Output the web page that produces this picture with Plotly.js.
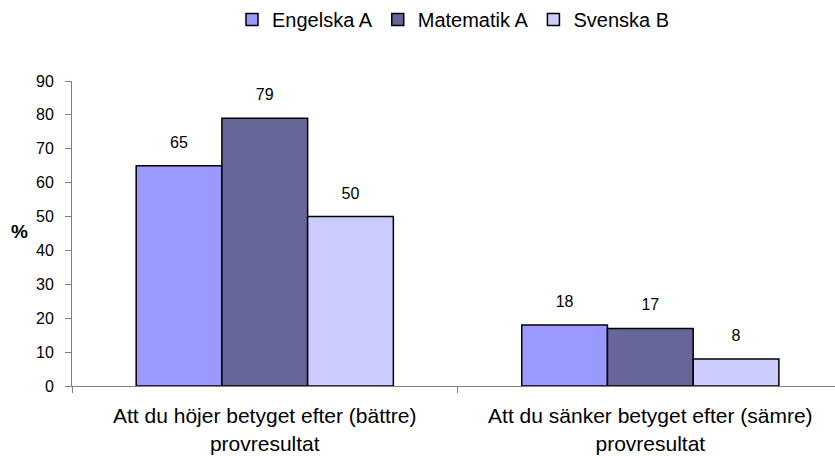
<!DOCTYPE html>
<html>
<head>
<meta charset="utf-8">
<script src="https://cdn.plot.ly/plotly-3.0.1.min.js"></script>
<style>html,body{margin:0;padding:0;overflow:hidden;background:#fff}</style>
</head>
<body>
<div id="chart" style="width:835px;height:456px"></div>
<script>
const categories = ["Att du höjer betyget efter (bättre)<br>provresultat", "Att du sänker betyget efter (sämre)<br>provresultat"];
const seriesNames = ["Engelska A", "Matematik A", "Svenska B"];
const engelska = [65, 18];
const matematik = [79, 17];
const svenska = [50, 8];
const colors = ["#9999FF", "#666699", "#CCCCFF"];
const yTicks = [0, 10, 20, 30, 40, 50, 60, 70, 80, 90];
const yTitle = "%";

const values = [engelska, matematik, svenska];
const traces = values.map((v, i) => ({
  type: "bar",
  name: seriesNames[i],
  x: categories,
  y: v,
  text: v.map(String),
  texttemplate: "<span style='font-size:16px'>%{text}</span><br> ",
  textposition: "outside",
  cliponaxis: false,
  textfont: {family: "Liberation Sans, Arial, sans-serif", size: 10, color: "#000"},
  marker: {color: colors[i], line: {color: "#000", width: 1.5}},
  hoverinfo: "none"
}));

const layout = {
  width: 835, height: 456,
  margin: {l: 72, r: 0, t: 81, b: 70},
  paper_bgcolor: "#fff", plot_bgcolor: "#fff",
  font: {family: "Liberation Sans, Arial, sans-serif", color: "#000"},
  barmode: "group",
  bargap: 0.333,
  bargroupgap: 0,
  showlegend: true,
  legend: {orientation: "h", x: 0.5, xanchor: "center", y: 1.203, yanchor: "middle",
           font: {size: 20, color: "#000"}, itemwidth: 30, tracegroupgap: 0},
  xaxis: {
    type: "category",
    range: [-0.5, 1.479],
    showline: true, linecolor: "#808080", linewidth: 1,
    ticks: "outside", tickson: "boundaries", ticklen: 6, tickcolor: "#808080",
    tickfont: {size: 21, color: "#000"},
    ticklabelstandoff: 11,
    showgrid: false, zeroline: false, fixedrange: true
  },
  yaxis: {
    range: [0, 90],
    tickvals: yTicks,
    showline: true, linecolor: "#808080", linewidth: 1,
    ticks: "outside", ticklen: 6, tickcolor: "#808080",
    tickfont: {size: 16, color: "#000"},
    ticklabelstandoff: 8,
    showgrid: false, zeroline: false, fixedrange: true
  },
  annotations: [{
    text: "<b>" + yTitle + "</b>", xref: "paper", yref: "paper",
    x: (20 - 72) / 763, y: 0.508, xanchor: "center", yanchor: "middle",
    showarrow: false, font: {size: 19, color: "#000"}
  }]
};

Plotly.newPlot("chart", traces, layout, {displayModeBar: false, staticPlot: true});
</script>
</body>
</html>
